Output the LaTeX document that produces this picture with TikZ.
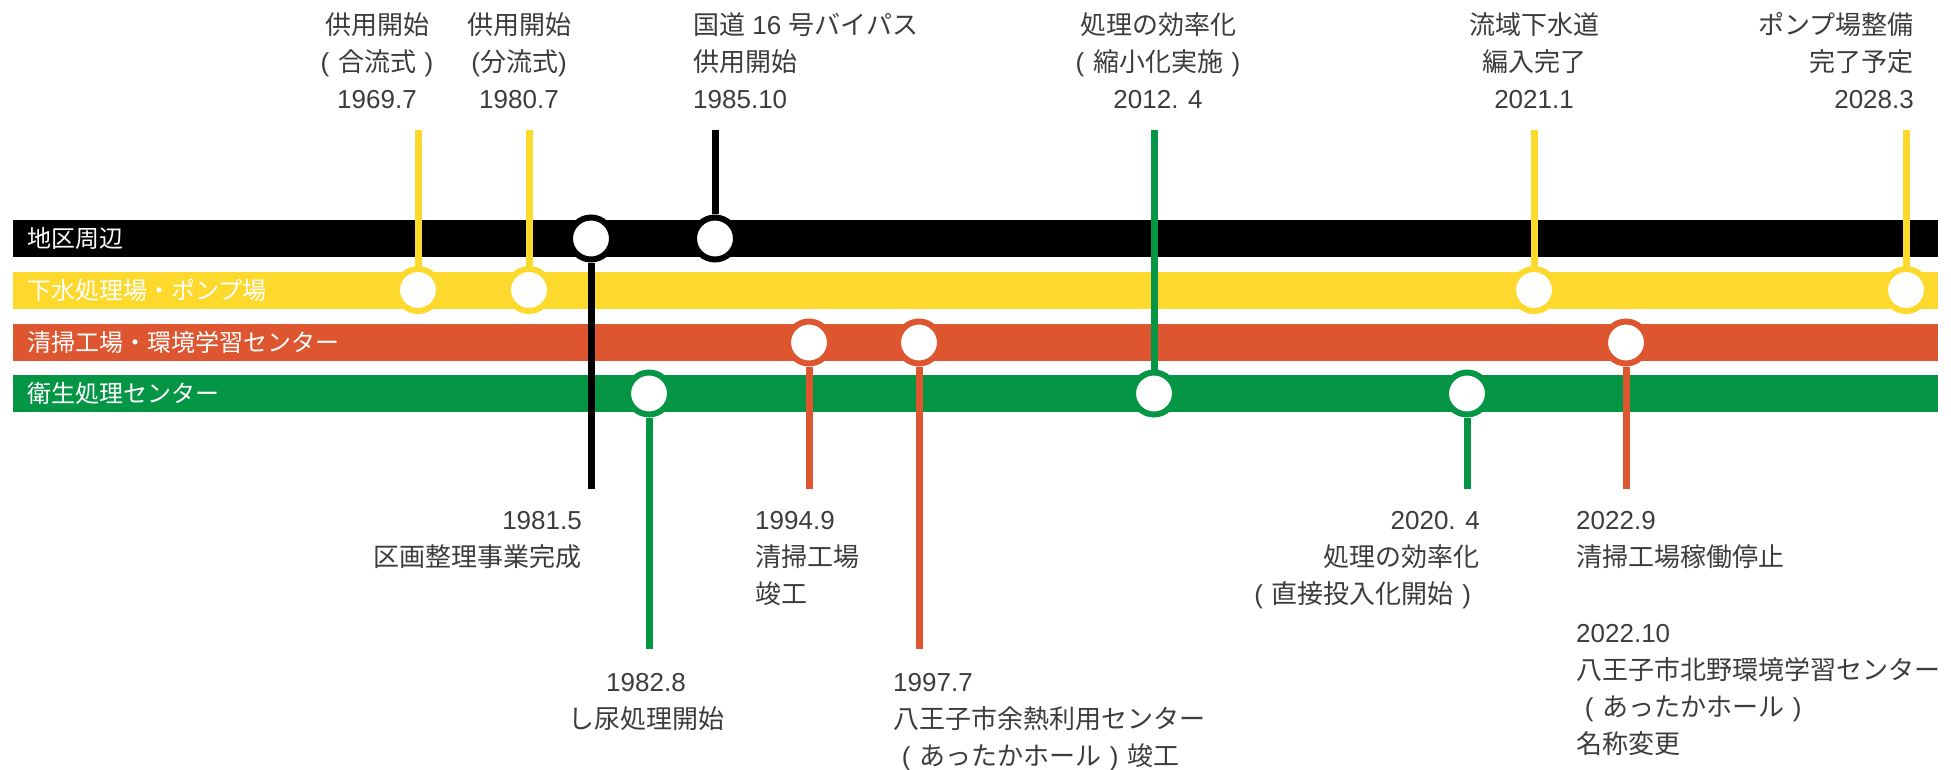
\documentclass[tikz,border=0pt]{standalone}
\usepackage{fontspec}
\setmainfont{Noto Sans CJK JP}
\newfontfamily\lat{Liberation Sans}
\definecolor{cblack}{HTML}{000000}
\definecolor{cyellow}{HTML}{FDD92E}
\definecolor{corange}{HTML}{DE5630}
\definecolor{cgreen}{HTML}{059645}
\definecolor{txtgray}{HTML}{3C3C3C}
\newcommand{\nm}[1]{{\lat #1}}
\newcommand{\lpar}{\makebox[1em][c]{\lat (}}
\newcommand{\rpar}{\makebox[1em][c]{\lat )}}
\tikzset{
  barfill/.style={fill=#1, draw=none},
  bartext/.style={text=white, anchor=west, inner sep=0pt, font=\fontsize{24}{28}\selectfont},
  ev/.style={circle, draw=#1, line width=6pt, fill=white, minimum size=42pt, inner sep=0pt},
  stem/.style={draw=#1, line width=7pt},
  lbl/.style={text=txtgray, inner sep=0pt, font=\fontsize{26}{37}\selectfont},
}
\begin{document}
\begin{tikzpicture}[x=1pt,y=-1pt]
\useasboundingbox (0,0) rectangle (1951,770);
% bars
\path[barfill=cblack]  (13,220) rectangle (1938,257);
\path[barfill=cyellow] (13,271.5) rectangle (1938,308.5);
\path[barfill=corange] (13,324) rectangle (1938,361);
\path[barfill=cgreen]  (13,375) rectangle (1938,412);
\node[bartext] (bk) at (27,238.5) {地区周辺};
\node[bartext] (by) at (27,290) {下水処理場・ポンプ場};
\node[bartext] (bo) at (27,342.5) {清掃工場・環境学習センター};
\node[bartext] (bg) at (27,393.5) {衛生処理センター};
% event circles
\node[ev=cyellow] (e1) at (418,290) {};
\node[ev=cyellow] (e2) at (529,290) {};
\node[ev=cblack]  (e3) at (591,238.5) {};
\node[ev=cgreen]  (e4) at (649,393.5) {};
\node[ev=cblack]  (e5) at (715,238.5) {};
\node[ev=corange] (e6) at (809,342.5) {};
\node[ev=corange] (e7) at (919,342.5) {};
\node[ev=cgreen]  (e8) at (1154,393.5) {};
\node[ev=cgreen]  (e9) at (1467,393.5) {};
\node[ev=cyellow] (e10) at (1534,290) {};
\node[ev=corange] (e11) at (1626,342.5) {};
\node[ev=cyellow] (e12) at (1906,290) {};
% stem ends
\coordinate (t1) at (418,130);
\coordinate (t2) at (529,130);
\coordinate (t3) at (591,489);
\coordinate (t4) at (649,649);
\coordinate (t5) at (715,130);
\coordinate (t6) at (809,489);
\coordinate (t7) at (919,649);
\coordinate (t8) at (1154,130);
\coordinate (t9) at (1467,489);
\coordinate (t10) at (1534,130);
\coordinate (t11) at (1626,489);
\coordinate (t12) at (1906,130);
\draw[stem=cyellow] (e1) -- (t1);
\draw[stem=cyellow] (e2) -- (t2);
\draw[stem=cblack]  (e3) -- (t3);
\draw[stem=cgreen]  (e4) -- (t4);
\draw[stem=cblack]  (e5) -- (t5);
\draw[stem=corange] (e6) -- (t6);
\draw[stem=corange] (e7) -- (t7);
\draw[stem=cgreen]  (e8) -- (t8);
\draw[stem=cgreen]  (e9) -- (t9);
\draw[stem=cyellow] (e10) -- (t10);
\draw[stem=corange] (e11) -- (t11);
\draw[stem=cyellow] (e12) -- (t12);
% top labels (anchor = baseline of last line)
\node[lbl, align=center, anchor=base] (l1) at (377,109) {供用開始\\\lpar 合流式\rpar\\\nm{1969.7}};
\node[lbl, align=center, anchor=base] (l2) at (519,109) {供用開始\\\nm{(}分流式\nm{)}\\\nm{1980.7}};
\node[lbl, align=left, anchor=base west] (l3) at (693,109) {国道\nm{ 16 }号バイパス\\供用開始\\\nm{1985.10}};
\node[lbl, align=center, anchor=base] (l4) at (1158,109) {処理の効率化\\\lpar 縮小化実施\rpar\\\nm{2012. 4}};
\node[lbl, align=center, anchor=base] (l5) at (1534,109) {流域下水道\\編入完了\\\nm{2021.1}};
\node[lbl, align=right, anchor=base east] (l6) at (1914,109) {ポンプ場整備\\完了予定\\\nm{2028.3}};
% bottom labels
\node[lbl, align=right, anchor=base east] (b1) at (582,566.5) {\nm{1981.5}\\区画整理事業完成};
\node[lbl, align=center, anchor=base] (b2) at (646,728.5) {\nm{1982.8}\\し尿処理開始};
\node[lbl, align=left, anchor=base west] (b3) at (755,603.5) {\nm{1994.9}\\清掃工場\\竣工};
\node[lbl, align=left, anchor=base west] (b4) at (893,765.5) {\nm{1997.7}\\八王子市余熱利用センター\\\lpar あったかホール\rpar 竣工};
\node[lbl, align=right, anchor=base east] (b5) at (1480,603.5) {\nm{2020. 4}\\処理の効率化\\\lpar 直接投入化開始\rpar};
\node[lbl, align=left, anchor=base west] (b6) at (1576,753.5) {\nm{2022.9}\\清掃工場稼働停止\\[39pt]\nm{2022.10}\\八王子市北野環境学習センター\\\lpar あったかホール\rpar\\名称変更};
\end{tikzpicture}
\end{document}
